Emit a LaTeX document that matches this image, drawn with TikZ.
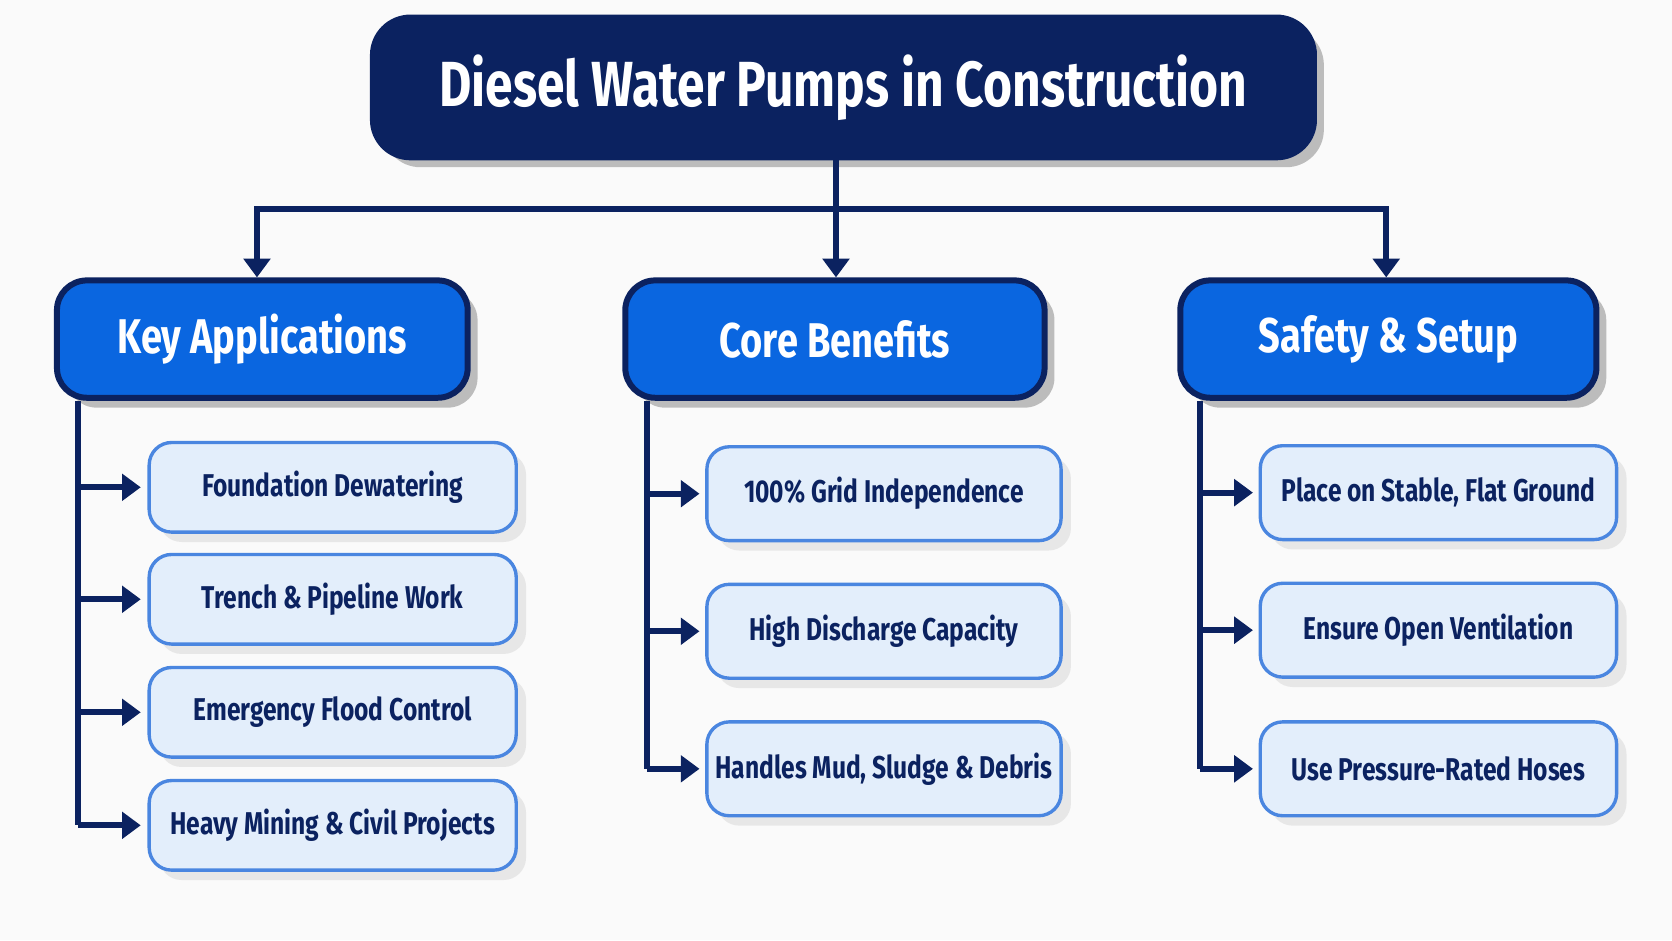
\documentclass[tikz,border=0pt]{standalone}
\usepackage{fontspec}
\setmainfont{Fira Sans}[FakeStretch=0.78]
\usetikzlibrary{arrows.meta,shadows}
\definecolor{navy}{HTML}{0B2260}
\definecolor{headblue}{HTML}{0A66E0}
\definecolor{itemfill}{HTML}{E3EEFB}
\definecolor{itemline}{HTML}{4A86E0}
\tikzset{
  titlebox/.style={draw=navy, line width=1.6pt, fill=navy, rounded corners=10pt,
    minimum width=8.82cm, minimum height=1.31cm, text=white, inner sep=2pt,
    font=\fontsize{17}{20}\selectfont\bfseries, drop shadow},
  headbox/.style={draw=navy, line width=1.6pt, fill=headblue, rounded corners=8pt,
    minimum width=3.85cm, minimum height=1.1cm, text=white, inner sep=2pt,
    font=\fontsize{13}{16}\selectfont\bfseries, drop shadow},
  itembox/.style={draw=itemline, line width=0.9pt, fill=itemfill, rounded corners=6pt,
    minimum width=3.36cm, minimum height=0.84cm, text=navy, inner sep=2pt,
    font=\fontsize{8.4}{10}\selectfont\bfseries, drop shadow={opacity=0.15}},
  link/.style={draw=navy, line width=1.6pt},
  arrow/.style={link, -{Triangle[length=5pt,width=7pt]}}
}
\begin{document}
\begin{tikzpicture}[x=0.01cm,y=-0.01cm]
  \useasboundingbox[fill=gray!4] (0,0) rectangle (1568,882);
  \node[titlebox] (title) at (791,82) {Diesel Water Pumps in Construction};
  % headings
  \node[headbox] (apps) at (246,318) {Key Applications};
  \node[headbox, minimum width=3.93cm] (bens) at (783,318) {Core Benefits};
  \node[headbox, minimum width=3.9cm] (safe) at (1302,318) {Safety \& Setup};
  \coordinate (split) at (784,196);
  \draw[link] (title.south -| split) -- (split);
  \draw[arrow] (split) -| (apps.north -| 241,0);
  \draw[arrow] (split) -- (bens.north -| split);
  \draw[arrow] (split) -| (safe.north -| 1300,0);
  % items
  \node[itembox, minimum width=3.44cm] (a1) at (312,457) {Foundation Dewatering};
  \node[itembox, minimum width=3.44cm] (a2) at (312,562) {Trench \& Pipeline Work};
  \node[itembox, minimum width=3.44cm] (a3) at (312,668) {Emergency Flood Control};
  \node[itembox, minimum width=3.44cm] (a4) at (312,774) {Heavy Mining \& Civil Projects};
  \node[itembox, minimum height=0.88cm, minimum width=3.32cm] (b1) at (829,463) {100\% Grid Independence};
  \node[itembox, minimum height=0.88cm, minimum width=3.32cm] (b2) at (829,592) {High Discharge Capacity};
  \node[itembox, minimum height=0.88cm, minimum width=3.32cm] (b3) at (829,721) {Handles Mud, Sludge \& Debris};
  \node[itembox, minimum height=0.88cm, minimum width=3.34cm] (s1) at (1349,462) {Place on Stable, Flat Ground};
  \node[itembox, minimum height=0.88cm, minimum width=3.34cm] (s2) at (1349,591) {Ensure Open Ventilation};
  \node[itembox, minimum height=0.88cm, minimum width=3.34cm] (s3) at (1349,721) {Use Pressure-Rated Hoses};
  % branches
  \draw[link] (apps.south -| 73,0) -- (73,774);
  \foreach \n in {a1,a2,a3,a4}
    \draw[arrow] (\n.west -| 73,0) -- (\n.west -| 132,0);
  \draw[link] (bens.south -| 607,0) -- (607,721);
  \foreach \n in {b1,b2,b3}
    \draw[arrow] (\n.west -| 607,0) -- (\n.west -| 656,0);
  \draw[link] (safe.south -| 1125,0) -- (1125,721);
  \foreach \n in {s1,s2,s3}
    \draw[arrow] (\n.west -| 1125,0) -- (\n.west -| 1175,0);
\end{tikzpicture}
\end{document}
